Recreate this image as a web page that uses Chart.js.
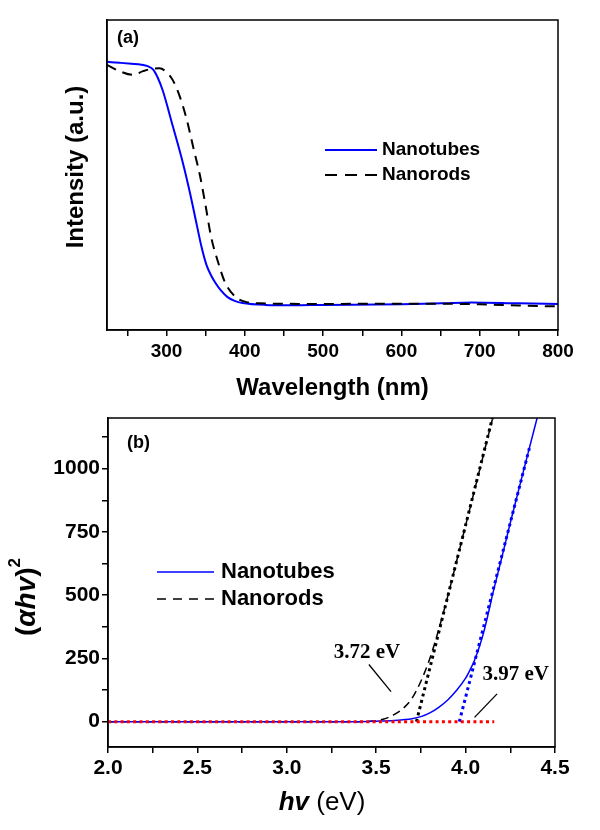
<!DOCTYPE html>
<html>
<head>
<meta charset="utf-8">
<script src="https://cdn.jsdelivr.net/npm/chart.js@4.4.1/dist/chart.umd.min.js"></script>
<style>
  html, body { margin: 0; padding: 0; background: #fff; }
  canvas { display: block; }
</style>
</head>
<body>
<canvas id="chartA" width="600" height="400"></canvas>
<canvas id="chartB" width="600" height="430"></canvas>
<script>
// Panel (a): absorption spectra, intensity in arbitrary units
const tubesWavelength = [224, 240, 255, 268, 276, 283, 289, 295, 308, 321, 330, 339, 345, 351, 357, 363, 370, 378, 387, 397, 426, 460, 500, 600, 650, 690, 750, 800];
const tubesIntensity  = [86.5, 86.2, 85.9, 85.6, 85.1, 84.0, 81.3, 77.4, 65.8, 53.8, 44.2, 33.5, 26.5, 21.0, 17.6, 15.0, 12.6, 10.6, 9.4, 8.7, 8.1, 8.0, 8.1, 8.3, 8.6, 8.9, 8.6, 8.4];

const rodsWavelength = [224, 240, 257, 270, 280, 291, 300, 308, 317, 326, 334, 343, 350, 357, 365, 375, 390, 404, 420, 500, 600, 700, 750, 800];
const rodsIntensity  = [85.5, 83.5, 82.3, 83.5, 84.2, 84.4, 83.2, 80.6, 75.3, 67.7, 59.1, 49.5, 40, 30, 22.6, 15.2, 10.3, 8.9, 8.6, 8.4, 8.5, 8.3, 7.9, 7.6];

const wavelengthMajorTicks = [300, 400, 500, 600, 700, 800];
const wavelengthMinorTicks = [250, 350, 450, 550, 650, 750];

// Panel (b): Tauc plot
const tubesEnergy = [2.0, 3.4, 3.5, 3.6, 3.65, 3.7, 3.75, 3.8, 3.85, 3.9, 3.95, 4.0, 4.025, 4.05, 4.075, 4.1, 4.125, 4.15, 4.2, 4.25, 4.3, 4.35, 4.4];
const tubesTauc   = [0, 0, 2, 5, 8, 12, 20, 35, 57, 86, 124, 172, 205, 243, 292, 350, 422, 500, 642, 786, 925, 1063, 1200];

const rodsEnergy = [2.0, 3.4, 3.45, 3.5, 3.55, 3.6, 3.65, 3.7, 3.75, 3.8, 3.85, 3.9, 3.95, 4.0, 4.05, 4.1, 4.15];
const rodsTauc   = [0, 0, 1, 4, 12, 28, 52, 92, 160, 250, 365, 495, 635, 775, 915, 1055, 1195];

// linear fits extrapolated to the baseline
const tubesFitEnergy = [3.965, 4.36];
const tubesFitTauc   = [0, 1090];
const rodsFitEnergy  = [3.725, 4.15];
const rodsFitTauc    = [0, 1200];
const baselineEnergy = [2.0, 4.16];
const baselineTauc   = [0, 0];

const energyMajorTicks = [2.0, 2.5, 3.0, 3.5, 4.0, 4.5];
const energyMinorTicks = [2.25, 2.75, 3.25, 3.75, 4.25];
const taucMajorTicks = [0, 250, 500, 750, 1000];
const taucMinorTicks = [125, 375, 625, 875, 1125];

// band gap labels: text, text position, arrow start, arrow end (data coords)
const gapLabels = [
    { text: '3.72 eV', at: [3.448, 274], from: [3.459, 226], to: [3.583, 119] },
    { text: '3.97 eV', at: [4.28, 186],  from: [4.176, 110], to: [4.05, 17] }
];

const SANS = "'Liberation Sans', Arial, sans-serif";
const SERIF = "'Liberation Serif', 'Times New Roman', serif";

function points(xs, ys) {
    return xs.map((x, i) => ({ x: x, y: ys[i] }));
}

function fixedTicks(major, minor) {
    return scale => {
        scale.ticks = major.concat(minor).sort((a, b) => a - b).map(v => ({ value: v }));
    };
}

function axisStyle(size) {
    return {
        grid: { drawOnChartArea: false, drawTicks: true, tickLength: 6, color: '#000', lineWidth: 1.5 },
        border: { display: true, color: '#000', width: 1.5 },
        ticks: { color: '#000', font: { family: SANS, size: size, weight: 'bold' }, autoSkip: false, maxRotation: 0 }
    };
}

function frame(ctx, a) {
    ctx.strokeStyle = '#000';
    ctx.lineWidth = 1.5;
    ctx.strokeRect(a.left, a.top, a.right - a.left, a.bottom - a.top);
}

function legendLine(ctx, x1, x2, y, color, dash, width) {
    ctx.save();
    ctx.strokeStyle = color;
    ctx.lineWidth = width;
    ctx.setLineDash(dash);
    ctx.beginPath();
    ctx.moveTo(x1, y);
    ctx.lineTo(x2, y);
    ctx.stroke();
    ctx.restore();
}

// draw text pieces one after another, centred on (cx, cy)
function richText(ctx, pieces, cx, cy) {
    let total = 0;
    pieces.forEach(p => { ctx.font = p.font; total += ctx.measureText(p.text).width; });
    let x = cx - total / 2;
    ctx.textBaseline = 'middle';
    ctx.textAlign = 'left';
    pieces.forEach(p => {
        ctx.font = p.font;
        ctx.fillText(p.text, x, cy + (p.dy || 0));
        x += ctx.measureText(p.text).width;
    });
}

const decorA = {
    id: 'decorA',
    afterDraw(chart) {
        const ctx = chart.ctx;
        const a = chart.chartArea;
        ctx.save();
        frame(ctx, a);
        ctx.fillStyle = '#000';
        ctx.textBaseline = 'middle';

        ctx.font = 'bold 18px ' + SANS;
        ctx.fillText('(a)', a.left + 10, 38);

        legendLine(ctx, 325, 377, 150, '#0000ff', [], 2);
        legendLine(ctx, 325, 377, 175, '#000', [12, 8], 2);
        ctx.font = 'bold 19px ' + SANS;
        ctx.textAlign = 'left';
        ctx.fillText('Nanotubes', 382, 150);
        ctx.fillText('Nanorods', 382, 175);

        ctx.font = 'bold 24px ' + SANS;
        ctx.textAlign = 'center';
        ctx.fillText('Wavelength (nm)', (a.left + a.right) / 2, 388);

        ctx.translate(76, 167);
        ctx.rotate(-Math.PI / 2);
        ctx.fillText('Intensity (a.u.)', 0, 0);
        ctx.restore();
    }
};

const decorB = {
    id: 'decorB',
    afterDraw(chart) {
        const ctx = chart.ctx;
        const a = chart.chartArea;
        const sx = chart.scales.x, sy = chart.scales.y;
        ctx.save();
        frame(ctx, a);
        ctx.fillStyle = '#000';
        ctx.textBaseline = 'middle';

        ctx.font = 'bold 18px ' + SANS;
        ctx.fillText('(b)', a.left + 19, 43);

        legendLine(ctx, 157, 214, 172, '#0000ff', [], 1.5);
        legendLine(ctx, 157, 214, 199, '#000', [9, 7], 1.5);
        ctx.font = 'bold 22px ' + SANS;
        ctx.textAlign = 'left';
        ctx.fillText('Nanotubes', 221, 172);
        ctx.fillText('Nanorods', 221, 199);

        gapLabels.forEach(g => {
            ctx.font = 'bold 21px ' + SERIF;
            ctx.textAlign = 'center';
            ctx.fillText(g.text, sx.getPixelForValue(g.at[0]), sy.getPixelForValue(g.at[1]));
            ctx.strokeStyle = '#000';
            ctx.lineWidth = 1.3;
            ctx.beginPath();
            ctx.moveTo(sx.getPixelForValue(g.from[0]), sy.getPixelForValue(g.from[1]));
            ctx.lineTo(sx.getPixelForValue(g.to[0]), sy.getPixelForValue(g.to[1]));
            ctx.stroke();
        });

        richText(ctx, [
            { text: 'hv', font: 'italic bold 26px ' + SANS },
            { text: ' (eV)', font: '26px ' + SANS }
        ], 322, 403);

        ctx.translate(27, 197);
        ctx.rotate(-Math.PI / 2);
        richText(ctx, [
            { text: '(', font: 'bold 28px ' + SANS },
            { text: '\u03B1hv', font: 'italic bold 28px ' + SANS },
            { text: ')', font: 'bold 28px ' + SANS },
            { text: '2', font: 'bold 17px ' + SANS, dy: -12 }
        ], 0, 0);
        ctx.restore();
    }
};

// Panel (a)
const axA = axisStyle(19);
new Chart(document.getElementById('chartA'), {
    type: 'line',
    data: {
        datasets: [
            {
                label: 'Nanorods',
                data: points(rodsWavelength, rodsIntensity),
                borderColor: '#000',
                borderWidth: 2,
                borderDash: [10, 7],
                pointRadius: 0,
                cubicInterpolationMode: 'monotone'
            },
            {
                label: 'Nanotubes',
                data: points(tubesWavelength, tubesIntensity),
                borderColor: '#0000ff',
                borderWidth: 2,
                pointRadius: 0,
                cubicInterpolationMode: 'monotone'
            }
        ]
    },
    options: {
        responsive: false,
        animation: false,
        layout: { padding: { top: 20, right: 42, left: 0, bottom: 0 } },
        plugins: { legend: { display: false }, tooltip: { enabled: false } },
        scales: {
            x: {
                type: 'linear',
                min: 224,
                max: 800,
                afterBuildTicks: fixedTicks(wavelengthMajorTicks, wavelengthMinorTicks),
                afterFit: s => { s.height = 70; },
                grid: axA.grid,
                border: axA.border,
                ticks: Object.assign({}, axA.ticks, {
                    padding: 4,
                    callback: v => wavelengthMajorTicks.includes(v) ? String(v) : ''
                })
            },
            y: {
                min: 0,
                max: 100,
                afterFit: s => { s.width = 107; },
                grid: { display: false },
                border: axA.border,
                ticks: { display: false }
            }
        }
    },
    plugins: [decorA]
});

// Panel (b)
const axB = axisStyle(21);
new Chart(document.getElementById('chartB'), {
    type: 'line',
    data: {
        datasets: [
            {
                label: 'baseline',
                data: points(baselineEnergy, baselineTauc),
                borderColor: '#ff0000',
                borderWidth: 3,
                borderDash: [3, 3.3],
                pointRadius: 0
            },
            {
                label: 'Nanotubes fit',
                data: points(tubesFitEnergy, tubesFitTauc),
                borderColor: '#0000ff',
                borderWidth: 3,
                borderDash: [3, 3.5],
                pointRadius: 0
            },
            {
                label: 'Nanorods fit',
                data: points(rodsFitEnergy, rodsFitTauc),
                borderColor: '#000',
                borderWidth: 3,
                borderDash: [3, 3.5],
                pointRadius: 0
            },
            {
                label: 'Nanotubes',
                data: points(tubesEnergy, tubesTauc),
                borderColor: '#0000ff',
                borderWidth: 1.5,
                pointRadius: 0,
                cubicInterpolationMode: 'monotone'
            },
            {
                label: 'Nanorods',
                data: points(rodsEnergy, rodsTauc),
                borderColor: '#000',
                borderWidth: 1.5,
                borderDash: [8, 5],
                pointRadius: 0,
                cubicInterpolationMode: 'monotone'
            }
        ]
    },
    options: {
        responsive: false,
        animation: false,
        layout: { padding: { top: 18, right: 45, left: 0, bottom: 0 } },
        plugins: { legend: { display: false }, tooltip: { enabled: false } },
        scales: {
            x: {
                type: 'linear',
                min: 2.0,
                max: 4.5,
                afterBuildTicks: fixedTicks(energyMajorTicks, energyMinorTicks),
                afterFit: s => { s.height = 83; },
                grid: axB.grid,
                border: axB.border,
                ticks: Object.assign({}, axB.ticks, {
                    padding: 3,
                    callback: v => energyMajorTicks.includes(v) ? v.toFixed(1) : ''
                })
            },
            y: {
                min: -100,
                max: 1200,
                afterBuildTicks: fixedTicks(taucMajorTicks, taucMinorTicks),
                afterFit: s => { s.width = 108; },
                grid: axB.grid,
                border: axB.border,
                ticks: Object.assign({}, axB.ticks, {
                    padding: 2,
                    callback: v => taucMajorTicks.includes(v) ? String(v) : ''
                })
            }
        }
    },
    plugins: [decorB]
});
</script>
</body>
</html>
